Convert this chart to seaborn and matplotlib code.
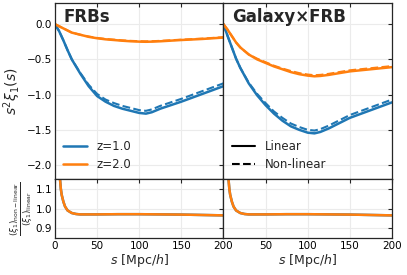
import numpy as np
import pandas as pd
import matplotlib
matplotlib.use("Agg")
import matplotlib.pyplot as plt
from matplotlib.lines import Line2D
import seaborn as sns

# ---------------- data ----------------
s_top = [0, 5, 10, 15, 20, 30, 40, 50, 60, 70, 80, 90, 100, 108, 115, 125, 150, 175, 200]

frb_z1_lin = [0, -0.10, -0.23, -0.37, -0.50, -0.70, -0.88, -1.02, -1.10, -1.16, -1.20, -1.23, -1.26, -1.27, -1.25, -1.20, -1.10, -0.99, -0.88]
frb_z1_nl  = [0, -0.10, -0.23, -0.37, -0.50, -0.69, -0.86, -0.99, -1.07, -1.12, -1.16, -1.19, -1.22, -1.23, -1.21, -1.16, -1.06, -0.95, -0.84]
frb_z2_lin = [0, -0.03, -0.06, -0.09, -0.12, -0.15, -0.18, -0.20, -0.215, -0.225, -0.235, -0.243, -0.248, -0.25, -0.248, -0.243, -0.225, -0.21, -0.19]
frb_z2_nl  = [0, -0.03, -0.06, -0.09, -0.12, -0.15, -0.175, -0.195, -0.21, -0.22, -0.23, -0.237, -0.242, -0.244, -0.242, -0.237, -0.22, -0.205, -0.185]

gxf_z1_lin = [0, -0.17, -0.33, -0.49, -0.62, -0.84, -1.01, -1.15, -1.27, -1.37, -1.45, -1.50, -1.54, -1.55, -1.53, -1.48, -1.33, -1.22, -1.11]
gxf_z1_nl  = [0, -0.17, -0.33, -0.49, -0.62, -0.83, -0.99, -1.12, -1.24, -1.33, -1.41, -1.46, -1.50, -1.51, -1.49, -1.44, -1.29, -1.18, -1.07]
gxf_z2_lin = [0, -0.08, -0.17, -0.26, -0.33, -0.43, -0.50, -0.55, -0.60, -0.64, -0.68, -0.71, -0.73, -0.74, -0.735, -0.72, -0.67, -0.64, -0.61]
gxf_z2_nl  = [0, -0.08, -0.17, -0.26, -0.33, -0.43, -0.49, -0.54, -0.59, -0.63, -0.665, -0.695, -0.715, -0.725, -0.72, -0.705, -0.655, -0.625, -0.595]

s_ratio = [5, 6, 7, 8, 10, 12, 15, 20, 25, 30, 50, 75, 100, 125, 150, 175, 200]
frb_ratio = [1.25, 1.15, 1.10, 1.07, 1.035, 1.01, 0.99, 0.977, 0.972, 0.970, 0.970, 0.971, 0.971, 0.970, 0.969, 0.967, 0.965]
gxf_ratio = [1.25, 1.15, 1.10, 1.07, 1.035, 1.01, 0.99, 0.977, 0.972, 0.970, 0.970, 0.971, 0.971, 0.970, 0.969, 0.967, 0.965]

panel_titles = ["FRBs", "Galaxy\u00d7FRB"]
z_labels = ["z=1.0", "z=2.0"]
model_labels = ["Linear", "Non-linear"]
x_ticks = [0, 50, 100, 150, 200]
x_ticklabels_left = ["0", "50", "100", "150", "200"]
x_ticklabels_right = ["", "50", "100", "150", "200"]

# ---------------- style ----------------
sns.set_style("whitegrid", {"axes.edgecolor": "0.15", "grid.color": "0.92",
                            "xtick.direction": "in", "ytick.direction": "in"})
plt.rcParams["font.family"] = ["DejaVu Sans"]
plt.rcParams["mathtext.fontset"] = "dejavusans"

blue = "#1f77b4"
orange = "#ff7f0e"

fig, axes = plt.subplots(2, 2, figsize=(4.07, 2.75), dpi=100,
                         gridspec_kw={"height_ratios": [3, 1], "hspace": 0, "wspace": 0})
fig.subplots_adjust(left=0.135, right=0.963, top=0.989, bottom=0.135)

top_sets = [(frb_z1_lin, frb_z1_nl, frb_z2_lin, frb_z2_nl),
            (gxf_z1_lin, gxf_z1_nl, gxf_z2_lin, gxf_z2_nl)]
ratios = [frb_ratio, gxf_ratio]
xlabels = [x_ticklabels_left, x_ticklabels_right]

for j in range(2):
    ax = axes[0, j]
    z1l, z1n, z2l, z2n = top_sets[j]
    sns.lineplot(x=s_top, y=z1l, ax=ax, color=blue, lw=1.8)
    sns.lineplot(x=s_top, y=z1n, ax=ax, color=blue, lw=1.5, linestyle="--")
    sns.lineplot(x=s_top, y=z2l, ax=ax, color=orange, lw=1.8)
    sns.lineplot(x=s_top, y=z2n, ax=ax, color=orange, lw=1.5, linestyle="--")
    ax.set_ylim(-2.2, 0.3)
    ax.set_yticks([0.0, -0.5, -1.0, -1.5, -2.0])
    ax.set_xlim(0, 200)
    ax.set_xticks(x_ticks)
    ax.tick_params(labelbottom=False)
    ax.text(0.05, 0.97, panel_titles[j], transform=ax.transAxes, ha="left", va="top",
            fontsize=12, fontweight="bold")

    axr = axes[1, j]
    sns.lineplot(x=s_ratio, y=ratios[j], ax=axr, color=blue, lw=1.8)
    sns.lineplot(x=s_ratio, y=ratios[j], ax=axr, color=orange, lw=1.8)
    axr.set_ylim(0.85, 1.15)
    axr.set_yticks([0.9, 1.0, 1.1])
    axr.set_xlim(0, 200)
    axr.set_xticks(x_ticks)
    axr.set_xticklabels(xlabels[j])
    axr.set_xlabel(r"$s\ [\mathrm{Mpc}/h]$", fontsize=9, labelpad=1)

for ax in axes.flat:
    ax.tick_params(direction="in", top=True, right=True, length=3, width=0.8,
                   labelsize=7.5, pad=2, colors="0.15", labelcolor="black")
    for sp in ax.spines.values():
        sp.set_linewidth(0.9)
        sp.set_color("0.15")
    ax.grid(True, color="0.92", lw=0.8)

for ax in axes[:, 1]:
    ax.tick_params(labelleft=False)
    ax.set_ylabel("")

axes[0, 0].set_ylabel(r"$s^2\xi_1(s)$", fontsize=10, labelpad=3)
axes[1, 0].set_ylabel(r"$\frac{(\xi_1)_{\rm non-linear}}{(\xi_1)_{\rm linear}}$", fontsize=9, labelpad=1)

h1 = [Line2D([], [], color=blue, lw=1.8), Line2D([], [], color=orange, lw=1.8)]
axes[0, 0].legend(h1, z_labels, loc="lower left", frameon=False, fontsize=8.5,
                  handlelength=2.0, borderaxespad=0.3, labelspacing=0.4)
h2 = [Line2D([], [], color="black", lw=1.5), Line2D([], [], color="black", lw=1.5, linestyle="--")]
axes[0, 1].legend(h2, model_labels, loc="lower left", frameon=False, fontsize=8.5,
                  handlelength=2.0, borderaxespad=0.3, labelspacing=0.4)

fig.savefig("out.png", dpi=100)
